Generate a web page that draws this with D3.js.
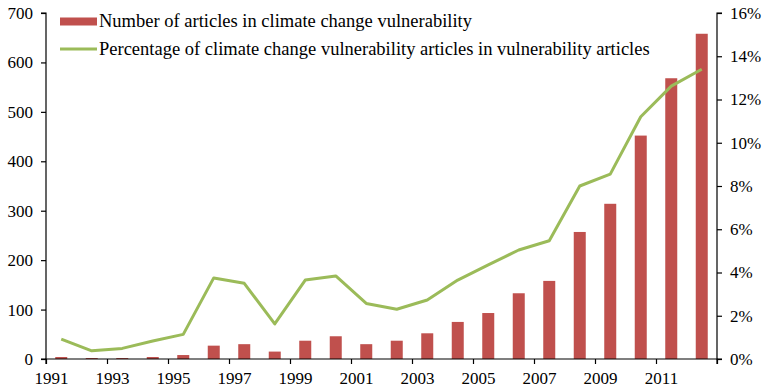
<!DOCTYPE html>
<html>
<head>
<meta charset="utf-8">
<script src="https://cdn.jsdelivr.net/npm/d3@7"></script>
<style>
  html, body { margin: 0; padding: 0; background: #fff; }
  svg { display: block; }
  text { font-family: "Liberation Serif", "Times New Roman", serif; fill: #000; }
</style>
</head>
<body>
<svg id="chart" width="768" height="390"></svg>
<script>
// Years on the category axis
const years = [1991, 1992, 1993, 1994, 1995, 1996, 1997, 1998, 1999, 2000, 2001,
               2002, 2003, 2004, 2005, 2006, 2007, 2008, 2009, 2010, 2011, 2012];

// Number of articles in climate change vulnerability (left axis)
const articleCounts = [4, 2, 2, 4, 8, 27, 30, 15, 37, 46, 30,
                       37, 52, 75, 93, 133, 158, 257, 314, 452, 568, 658];

// Share of climate change vulnerability articles among vulnerability articles, % (right axis)
const sharePercent = [0.92, 0.38, 0.49, 0.83, 1.14, 3.75, 3.5, 1.62, 3.65, 3.84, 2.57,
                      2.3, 2.73, 3.65, 4.35, 5.04, 5.47, 8.0, 8.55, 11.2, 12.62, 13.4];

// Tick values
const leftTicks = [0, 100, 200, 300, 400, 500, 600, 700];
const rightTicks = [0, 2, 4, 6, 8, 10, 12, 14, 16];
const labelledYears = [1991, 1993, 1995, 1997, 1999, 2001, 2003, 2005, 2007, 2009, 2011];

const seriesNames = [
  "Number of articles in climate change vulnerability",
  "Percentage of climate change vulnerability articles in vulnerability articles"
];

const barColor = "#C0504D";
const lineColor = "#9BBB59";
const serif = "'Liberation Serif', 'Times New Roman', serif";

const svg = d3.select("#chart");
const margin = { left: 46, right: 51, top: 13, bottom: 31 };
const W = 768, H = 390;
const x0 = margin.left, x1 = W - margin.right;
const yTop = margin.top, yBot = H - margin.bottom;

const x = d3.scaleBand().domain(years).range([x0, x1]).paddingInner(0).paddingOuter(0);
const yL = d3.scaleLinear().domain([0, 700]).range([yBot, yTop]);
const yR = d3.scaleLinear().domain([0, 16]).range([yBot, yTop]);

const barW = 12;

// Bars
svg.append("g").selectAll("rect")
  .data(years)
  .join("rect")
  .attr("x", (d) => x(d) + x.bandwidth() / 2 - barW / 2)
  .attr("y", (d, i) => yL(articleCounts[i]))
  .attr("width", barW)
  .attr("height", (d, i) => yBot - yL(articleCounts[i]))
  .attr("fill", barColor);

// Line
const line = d3.line()
  .x((d, i) => x(years[i]) + x.bandwidth() / 2)
  .y((d) => yR(d));
svg.append("path")
  .datum(sharePercent)
  .attr("d", line)
  .attr("fill", "none")
  .attr("stroke", lineColor)
  .attr("stroke-width", 3)
  .attr("stroke-linejoin", "round");

const axisColor = "#000";

// Left axis
const leftAxis = svg.append("g")
  .attr("transform", `translate(${x0},0)`)
  .call(d3.axisLeft(yL).tickValues(leftTicks).tickSize(5).tickPadding(8).tickFormat(d3.format("d")));

// Right axis
const rightAxis = svg.append("g")
  .attr("transform", `translate(${x1},0)`)
  .call(d3.axisRight(yR).tickValues(rightTicks).tickSize(5).tickPadding(8).tickFormat((d) => d + "%"));

// Bottom axis: ticks on category boundaries every two years
const xb = d3.scaleLinear().domain([0, years.length]).range([x0, x1]);
const bottomAxis = svg.append("g")
  .attr("transform", `translate(0,${yBot})`)
  .call(d3.axisBottom(xb)
    .tickValues(d3.range(0, years.length + 1, 2))
    .tickSize(5)
    .tickPadding(6)
    .tickFormat((d) => {
      const yr = years[0] + d;
      return labelledYears.includes(yr) ? String(yr) : "";
    }));

[leftAxis, rightAxis, bottomAxis].forEach((g) => {
  g.attr("font-family", serif).attr("font-size", 17);
  g.select(".domain").attr("stroke", axisColor).attr("stroke-width", 1.2);
  g.selectAll(".tick line").attr("stroke", axisColor).attr("stroke-width", 1.2);
  g.selectAll("text")
    .style("font-family", serif)
    .style("font-size", "17px")
    .attr("fill", "#000");
});
leftAxis.select(".domain").attr("d", `M-5,${yTop}H0V${yBot}H-5`);
rightAxis.select(".domain").attr("d", `M5,${yTop}H0V${yBot}H5`);
bottomAxis.select(".domain").attr("d", `M${x0},5V0H${x1}V5`);
bottomAxis.selectAll(".tick text").attr("dx", 5).attr("dy", "0.85em");

// Legend
const legend = svg.append("g");
legend.append("rect")
  .attr("x", 60).attr("y", 17.5).attr("width", 37).attr("height", 8)
  .attr("fill", barColor);
legend.append("line")
  .attr("x1", 60).attr("x2", 97).attr("y1", 49).attr("y2", 49)
  .attr("stroke", lineColor).attr("stroke-width", 3);
legend.selectAll("text")
  .data(seriesNames)
  .join("text")
  .attr("x", 99)
  .attr("y", (d, i) => 27 + i * 28)
  .style("font-size", "18.5px")
  .text((d) => d);
</script>
</body>
</html>
